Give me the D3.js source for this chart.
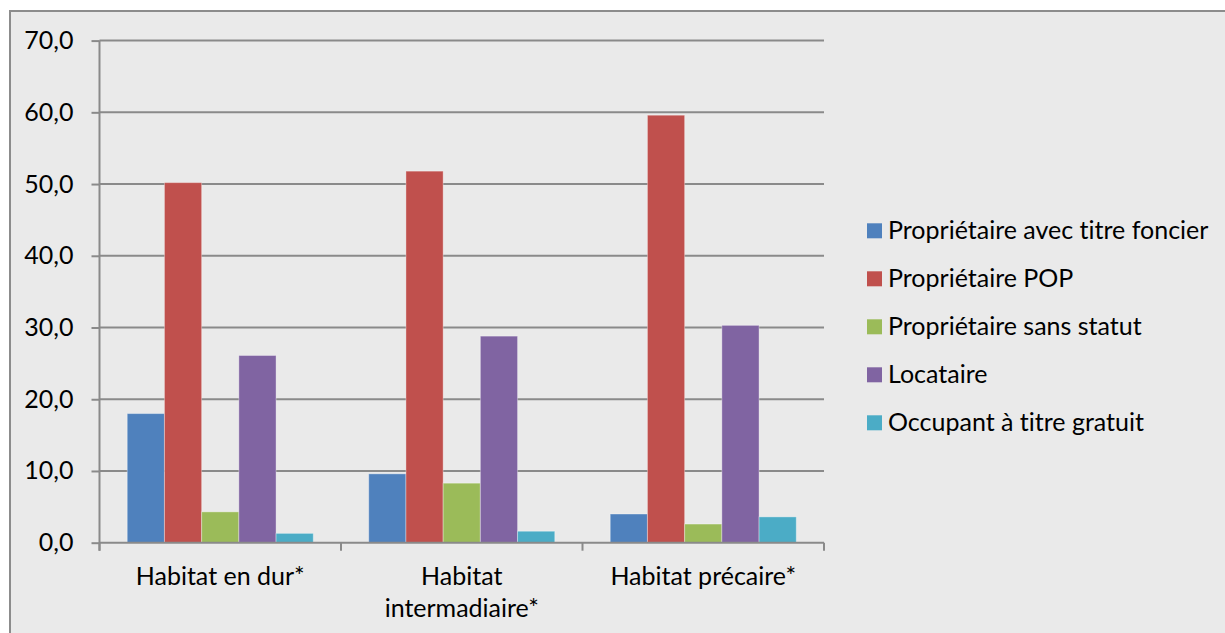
<!DOCTYPE html>
<html>
<head>
<meta charset="utf-8">
<script src="https://cdn.jsdelivr.net/npm/d3@7"></script>
<style>
  html, body { margin: 0; padding: 0; background: #ffffff; }
  svg { display: block; }
  text { font-family: Lato, "Open Sans", sans-serif; fill: #000; font-variant-ligatures: none; font-feature-settings: "liga" 0, "clig" 0; }
</style>
</head>
<body>
<svg id="chart" width="1225" height="633"></svg>
<script>
// Répartition des ménages par statut d'occupation selon le type d'habitat (%)
const categories = ["Habitat en dur*", "Habitat intermadiaire*", "Habitat précaire*"];
const series = [
  "Propriétaire avec titre foncier",
  "Propriétaire POP",
  "Propriétaire sans statut",
  "Locataire",
  "Occupant à titre gratuit"
];
const valuesTitreFoncier = [18.0, 9.6, 4.0];
const valuesPOP          = [50.2, 51.8, 59.6];
const valuesSansStatut   = [4.3, 8.3, 2.6];
const valuesLocataire    = [26.1, 28.8, 30.3];
const valuesGratuit      = [1.3, 1.6, 3.6];
const yTicks = [0, 10, 20, 30, 40, 50, 60, 70];
const colors = ["#4F81BD", "#C0504D", "#9BBB59", "#8064A2", "#4BACC6"];

const seriesValues = [valuesTitreFoncier, valuesPOP, valuesSansStatut, valuesLocataire, valuesGratuit];

const svg = d3.select("#chart");
const W = 1225, H = 633;
const plot = { left: 99.5, right: 824, top: 40.6, bottom: 542.7 };
const FS = 25;

// chart area background and frame
svg.append("rect").attr("x", 10).attr("y", 11).attr("width", W + 10).attr("height", H + 10)
  .attr("fill", "#EAEAEA").attr("stroke", "#8C8C8C").attr("stroke-width", 2);

const y = d3.scaleLinear().domain([0, 70]).range([plot.bottom, plot.top]);
const x = d3.scaleBand().domain(categories).range([plot.left, plot.right]).padding(0);
const inner = x.bandwidth() * 0.1148;
const x1 = d3.scaleBand().domain(series).range([inner, x.bandwidth() - inner]).padding(0);
const color = d3.scaleOrdinal().domain(series).range(colors);

// horizontal gridlines
svg.append("g").selectAll("line").data(yTicks.filter(d => d > 0)).join("line")
  .attr("x1", plot.left).attr("x2", plot.right)
  .attr("y1", d => y(d)).attr("y2", d => y(d))
  .attr("stroke", "#8A8A8A").attr("stroke-width", 2);

// bars
const groups = svg.append("g").selectAll("g").data(categories).join("g")
  .attr("transform", c => `translate(${x(c)},0)`);
groups.selectAll("rect")
  .data((c, ci) => series.map((s, si) => ({ s, v: seriesValues[si][ci] })))
  .join("rect")
  .attr("x", d => x1(d.s))
  .attr("width", x1.bandwidth())
  .attr("y", d => y(d.v))
  .attr("height", d => y(0) - y(d.v))
  .attr("fill", d => color(d.s))
  .attr("stroke", "rgba(255,255,255,0.35)")
  .attr("stroke-width", 1);

// y axis
const yAxis = d3.axisLeft(y).tickValues(yTicks).tickSize(8).tickPadding(18)
  .tickFormat(d => d3.format(".1f")(d).replace(".", ","));
const gy = svg.append("g").attr("transform", `translate(${plot.left},0)`).call(yAxis);
gy.select(".domain").attr("stroke", "#8A8A8A").attr("stroke-width", 2)
  .attr("d", `M0,${plot.top}V${plot.bottom + 8}`);
gy.selectAll(".tick line").attr("stroke", "#8A8A8A").attr("stroke-width", 2);
gy.selectAll(".tick text").attr("font-size", FS).attr("font-family", "Lato, sans-serif").attr("fill", "#000");

// x axis line and category separators
svg.append("line").attr("x1", plot.left).attr("x2", plot.right)
  .attr("y1", plot.bottom).attr("y2", plot.bottom)
  .attr("stroke", "#8A8A8A").attr("stroke-width", 2);
const bounds = categories.map(c => x(c)).concat([x(categories[categories.length - 1]) + x.bandwidth()]);
svg.append("g").selectAll("line").data(bounds).join("line")
  .attr("x1", d => d).attr("x2", d => d)
  .attr("y1", plot.bottom).attr("y2", plot.bottom + 8)
  .attr("stroke", "#8A8A8A").attr("stroke-width", 2);

// category labels, wrapped to the available width
const labels = svg.append("g").selectAll("text").data(categories).join("text")
  .attr("x", c => x(c) + x.bandwidth() / 2)
  .attr("y", 585)
  .attr("text-anchor", "middle")
  .attr("font-size", FS);
labels.each(function (c) {
  const t = d3.select(this);
  const words = c.split(" ");
  const maxW = x.bandwidth() * 0.86;
  let lines = [], cur = [];
  const probe = t.append("tspan");
  words.forEach(w => {
    const trial = cur.concat([w]).join(" ");
    probe.text(trial);
    if (probe.node().getComputedTextLength() > maxW && cur.length) {
      lines.push(cur.join(" "));
      cur = [w];
    } else cur.push(w);
  });
  lines.push(cur.join(" "));
  probe.remove();
  lines.forEach((l, i) => {
    t.append("tspan").attr("x", x(c) + x.bandwidth() / 2).attr("dy", i === 0 ? 0 : 31.7).text(l);
  });
});

// legend
const legend = svg.append("g").attr("transform", "translate(867,223.3)");
const items = legend.selectAll("g").data(series).join("g")
  .attr("transform", (d, i) => `translate(0,${i * 48})`);
items.append("rect").attr("width", 15).attr("height", 15).attr("fill", d => color(d));
items.append("text").attr("x", 21).attr("y", 16).attr("font-size", FS).text(d => d);
</script>
</body>
</html>
